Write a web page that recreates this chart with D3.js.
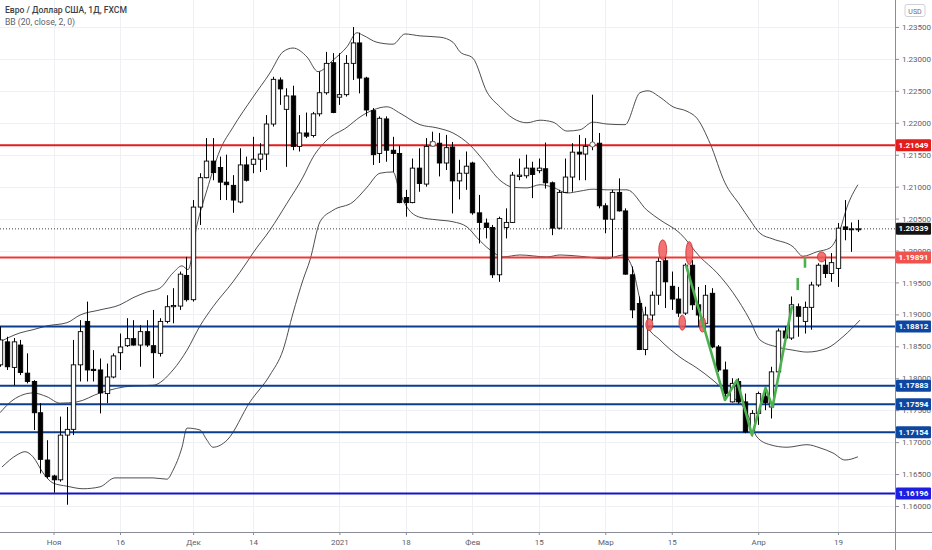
<!DOCTYPE html>
<html>
<head>
<meta charset="utf-8">
<script src="https://cdn.jsdelivr.net/npm/d3@7"></script>
<style>
  body { margin: 0; background: #fff; }
  svg { display: block; }
</style>
</head>
<body>
<svg id="chart" width="932" height="550"></svg>
<script>
const font = 'Roboto, "Liberation Sans", sans-serif'
const plotW = 895
const plotH = 532

// daily candles, bar index -8 .. 121 (0 = 2 Nov 2020)
const firstIdx = -8
const opens = [
  1.1821,1.1857,1.1817,1.1852,1.1808,1.1795,1.1746,1.1672,1.1647,1.1641,
  1.1711,1.1720,1.1821,1.1889,1.1814,1.1813,1.1776,1.1802,1.1840,1.1851,
  1.1862,1.1852,1.1873,1.1851,1.1839,1.1889,1.1912,1.1913,1.1961,1.1923,
  1.2068,1.2114,1.2140,1.2130,1.2107,1.2102,1.2076,1.2134,1.2135,1.2143,
  1.2151,1.2198,1.2267,1.2221,1.2242,1.2163,1.2184,1.2180,1.2214,1.2247,
  1.2294,1.2240,1.2244,1.2293,1.2325,1.2270,1.2219,1.2152,1.2206,1.2157,
  1.2152,1.2083,1.2075,1.2129,1.2104,1.2164,1.2168,1.2137,1.2162,1.2109,
  1.2121,1.2137,1.2059,1.2043,1.2036,1.1962,1.2036,1.2044,1.2116,1.2117,
  1.2129,1.2125,1.2128,1.2106,1.2035,1.2091,1.2115,1.2154,1.2151,1.2165,
  1.2168,1.2070,1.2049,1.2091,1.2062,1.1962,1.1917,1.1845,1.1899,1.1930,
  1.1984,1.1944,1.1924,1.1902,1.1977,1.1915,1.1886,1.1933,1.1849,1.1813,
  1.1763,1.1795,1.1763,1.1718,1.1745,1.1772,1.1755,1.1810,1.1874,1.1863,
  1.1912,1.1889,1.1911,1.1946,1.1977,1.1964,1.1972,1.2037,1.2034,1.2034
]
const highs = [
  1.1881,1.1865,1.1863,1.1860,1.1839,1.1797,1.1761,1.1703,1.1649,1.1740,
  1.1755,1.1860,1.1891,1.1920,1.1844,1.1831,1.1823,1.1839,1.1870,1.1894,
  1.1891,1.1883,1.1891,1.1907,1.1894,1.1930,1.1941,1.1967,1.1990,1.2079,
  1.2121,1.2176,1.2176,1.2147,1.2150,1.2118,1.2160,1.2147,1.2178,1.2168,
  1.2212,1.2272,1.2271,1.2254,1.2258,1.2212,1.2216,1.2217,1.2280,1.2311,
  1.2309,1.2309,1.2306,1.2350,1.2341,1.2272,1.2223,1.2210,1.2210,1.2178,
  1.2164,1.2095,1.2144,1.2160,1.2176,1.2186,1.2184,1.2181,1.2170,1.2142,
  1.2155,1.2139,1.2087,1.2050,1.2040,1.2053,1.2066,1.2123,1.2144,1.2150,
  1.2139,1.2144,1.2169,1.2108,1.2095,1.2144,1.2168,1.2181,1.2176,1.2244,
  1.2184,1.2074,1.2095,1.2113,1.2066,1.1975,1.1928,1.1912,1.1936,1.1988,
  1.1990,1.1967,1.1943,1.1980,1.1985,1.1943,1.1946,1.1941,1.1852,1.1826,
  1.1800,1.1800,1.1776,1.1750,1.1779,1.1787,1.1818,1.1878,1.1881,1.1928,
  1.1917,1.1920,1.1951,1.1980,1.1988,1.1996,1.2043,1.2079,1.2044,1.2048
]
const lows = [
  1.1818,1.1813,1.1789,1.1805,1.1792,1.1719,1.1651,1.1643,1.1621,1.1638,
  1.1602,1.1711,1.1795,1.1795,1.1795,1.1745,1.1761,1.1800,1.1813,1.1849,
  1.1851,1.1818,1.1849,1.1800,1.1834,1.1886,1.1886,1.1907,1.1920,1.1920,
  1.2040,1.2113,1.2110,1.2079,1.2079,1.2059,1.2074,1.2108,1.2121,1.2123,
  1.2126,1.2194,1.2228,1.2131,1.2157,1.2155,1.2176,1.2177,1.2210,1.2244,
  1.2215,1.2228,1.2241,1.2267,1.2246,1.2210,1.2134,1.2137,1.2139,1.2123,
  1.2074,1.2053,1.2074,1.2092,1.2100,1.2163,1.2116,1.2126,1.2058,1.2080,
  1.2095,1.2056,1.2011,1.2019,1.1957,1.1951,1.2019,1.2043,1.2110,1.2113,
  1.2082,1.2121,1.2097,1.2024,1.2033,1.2090,1.2092,1.2110,1.2110,1.2157,
  1.2066,1.2027,1.1990,1.2061,1.1962,1.1894,1.1844,1.1836,1.1890,1.1915,
  1.1910,1.1907,1.1896,1.1899,1.1907,1.1881,1.1876,1.1847,1.1810,1.1766,
  1.1762,1.1760,1.1714,1.1709,1.1727,1.1750,1.1737,1.1808,1.1860,1.1860,
  1.1865,1.1870,1.1876,1.1943,1.1957,1.1951,1.1943,1.2016,1.1998,1.2029
]
const closes = [
  1.1860,1.1818,1.1857,1.1809,1.1795,1.1746,1.1673,1.1646,1.1641,1.1711,
  1.1720,1.1821,1.1873,1.1813,1.1812,1.1777,1.1802,1.1835,1.1849,1.1862,
  1.1852,1.1873,1.1852,1.1840,1.1889,1.1912,1.1914,1.1963,1.1923,1.2068,
  1.2114,1.2140,1.2122,1.2107,1.2103,1.2079,1.2134,1.2110,1.2143,1.2151,
  1.2198,1.2268,1.2253,1.2242,1.2163,1.2184,1.2179,1.2214,1.2247,1.2293,
  1.2216,1.2244,1.2293,1.2325,1.2270,1.2220,1.2150,1.2207,1.2157,1.2152,
  1.2075,1.2075,1.2129,1.2105,1.2163,1.2170,1.2137,1.2161,1.2109,1.2121,
  1.2132,1.2059,1.2044,1.2036,1.1962,1.2050,1.2044,1.2118,1.2118,1.2129,
  1.2119,1.2129,1.2106,1.2035,1.2091,1.2115,1.2154,1.2151,1.2163,1.2166,
  1.2070,1.2049,1.2091,1.2062,1.1963,1.1907,1.1845,1.1899,1.1930,1.1983,
  1.1951,1.1924,1.1902,1.1977,1.1915,1.1899,1.1930,1.1849,1.1813,1.1776,
  1.1792,1.1763,1.1716,1.1745,1.1776,1.1762,1.1810,1.1874,1.1863,1.1915,
  1.1897,1.1911,1.1946,1.1977,1.1964,1.1981,1.2035,1.2033,1.2034,1.2034
]

// Bollinger bands (20, 2): [bar index, price]
const bbUpper = [
  [-8.05,1.1857],[-5.04,1.1871],[-3.08,1.1876],[-0.98,1.1882],[2.03,1.1887],[3.99,1.1899],
  [6.99,1.1907],[10.0,1.1915],[11.96,1.1926],[14.06,1.1935],[16.0,1.1941],[17.98,1.1965],
  [19.33,1.1976],[20.23,1.1970],[21.58,1.2040],[23.09,1.2095],[25.04,1.2157],[27.0,1.2193],
  [30.0,1.2240],[32.56,1.2278],[34.52,1.2311],[36.03,1.2317],[38.13,1.2303],[39.79,1.2280],
  [42.04,1.2298],[44.15,1.2319],[45.65,1.2341],[46.56,1.2337],[48.66,1.2326],[51.07,1.2323],
  [52.87,1.2339],[55.13,1.2336],[58.14,1.2334],[60.09,1.2326],[61.15,1.2311],[63.1,1.2301],
  [65.21,1.2248],[67.16,1.2225],[69.12,1.2207],[71.22,1.2200],[73.18,1.2204],[75.14,1.2201],
  [77.24,1.2187],[79.2,1.2189],[81.15,1.2201],[83.26,1.2198],[85.97,1.2197],[88.22,1.2247],
  [89.42,1.2250],[91.23,1.2240],[93.18,1.2225],[95.29,1.2218],[96.79,1.2207],[98.75,1.2168],
  [101.0,1.2106],[103.26,1.2071],[104.76,1.2048],[106.27,1.2027],[108.22,1.2018],[111.23,1.2006],
  [112.73,1.1991],[114.84,1.1998],[116.8,1.2004],[118.3,1.2032],[119.36,1.2068],[121.0,1.2103]
]
const bbBasis = [
  [-8.05,1.1746],[-6.09,1.1766],[-3.08,1.1777],[-0.98,1.1771],[0.98,1.1761],[3.53,1.1763],
  [6.99,1.1777],[11.96,1.1788],[14.97,1.1789],[17.98,1.1813],[20.08,1.1844],[22.04,1.1882],
  [23.99,1.1912],[27.0,1.1951],[29.11,1.1982],[30.0,1.1996],[32.56,1.2032],[35.12,1.2074],
  [37.53,1.2115],[39.03,1.2146],[41.14,1.2173],[44.15,1.2193],[46.1,1.2209],[48.06,1.2220],
  [50.16,1.2225],[52.12,1.2215],[55.13,1.2197],[57.69,1.2192],[60.09,1.2184],[62.65,1.2165],
  [64.61,1.2142],[67.16,1.2110],[69.12,1.2099],[71.22,1.2098],[73.18,1.2103],[75.14,1.2099],
  [77.24,1.2090],[79.2,1.2093],[81.15,1.2096],[83.26,1.2095],[86.27,1.2095],[89.28,1.2063],
  [91.23,1.2048],[94.24,1.2027],[97.25,1.1990],[99.81,1.1965],[102.21,1.1934],[104.76,1.1891],
  [106.27,1.1860],[108.83,1.1849],[111.23,1.1844],[113.34,1.1841],[116.35,1.1847],[118.75,1.1865],
  [121.31,1.1891]
]
const bbLower = [
  [-7.75,1.1661],[-5.49,1.1680],[-4.29,1.1685],[-3.08,1.1677],[-1.58,1.1652],[-0.08,1.1636],
  [2.03,1.1631],[4.44,1.1627],[6.99,1.1630],[9.25,1.1644],[11.96,1.1644],[14.97,1.1644],
  [17.07,1.1642],[17.98,1.1656],[19.33,1.1692],[20.08,1.1722],[22.04,1.1719],[23.09,1.1703],
  [23.99,1.1692],[26.1,1.1703],[29.56,1.1763],[32.56,1.1805],[34.52,1.1844],[36.03,1.1902],
  [37.53,1.1954],[38.58,1.1985],[40.09,1.2045],[42.04,1.2063],[45.05,1.2076],[47.16,1.2099],
  [49.11,1.2121],[51.07,1.2123],[52.12,1.2090],[53.17,1.2068],[55.13,1.2052],[57.69,1.2048],
  [60.09,1.2045],[62.2,1.2037],[63.71,1.2020],[65.66,1.2001],[67.61,1.1990],[70.17,1.1993],
  [74.23,1.1990],[76.19,1.1993],[79.2,1.1991],[83.26,1.1987],[85.66,1.1993],[87.17,1.1970],
  [88.22,1.1923],[89.28,1.1883],[91.23,1.1860],[94.24,1.1833],[96.79,1.1816],[99.2,1.1797],
  [101.31,1.1777],[104.31,1.1746],[105.82,1.1708],[107.77,1.1696],[110.33,1.1692],[113.34,1.1696],
  [115.3,1.1691],[117.25,1.1683],[119.06,1.1672],[121.0,1.1677]
]

// horizontal levels drawn on the chart
const levels = [1.21649, 1.19891, 1.18812, 1.17883, 1.17594, 1.17154, 1.16196]
const lastPrice = 1.20339

// axis ticks
const priceTicks = [1.160, 1.165, 1.170, 1.175, 1.180, 1.185, 1.190, 1.195,
  1.200, 1.205, 1.210, 1.215, 1.220, 1.225, 1.230, 1.235]
const tickIdx = [0, 10, 21, 30, 43, 53, 63, 73, 83, 93, 106, 118]
const tickLabels = ['Ноя', '16', 'Дек', '14', '2021', '18', 'Фев', '15', 'Мар', '15', 'Апр', '19']

// hand drawn annotations
const greenPath = [[95.14,1.1977],[101.0,1.1766],[102.8,1.1797],[105.07,1.1711],
  [107.11,1.1785],[108.16,1.1755],[111.08,1.1913]]
const greenDashes = [[111.95,1.1957,1.1938],[113.04,1.1990,1.1973]]
const ovals = [[91.64,1.2001],[89.62,1.1884],[95.64,1.1996],[94.58,1.1887],[97.62,1.1884],[115.55,1.1990]]
const ovalSize = [[4,10],[3.5,6],[3.5,11.5],[3.3,7.5],[3.3,7.5],[4.2,5]]
const rings = [[57, 1.2167], [81, 1.2166]]

// style
const levelColor = ['#e31c1c', '#ee3a36', '#0b3d91', '#0b3d91', '#0b3d91', '#0b3d91', '#1414c8']
const labelColor = ['#e31c1c', '#f0524d', '#0d47a1', '#0d47a1', '#0d47a1', '#0d47a1', '#1e1ee0']
const gridColor = '#eef0f4'
const axisColor = '#8a8d96'
const bbColor = '#3a3a3a'

const candles = opens.map((o, k) => ({
  i: firstIdx + k, o: o, h: highs[k], l: lows[k], c: closes[k]
}))

const svg = d3.select('#chart')

const x = d3.scaleLinear().domain([-8.048, 126.58]).range([0, plotW])
const y = d3.scaleLinear().domain([1.15593, 1.23922]).range([plotH, 0])

// grid
svg.append('g').selectAll('line').data(priceTicks).enter().append('line')
  .attr('x1', 0).attr('x2', plotW)
  .attr('y1', d => Math.round(y(d)) + 0.5).attr('y2', d => Math.round(y(d)) + 0.5)
  .attr('stroke', gridColor)
svg.append('g').selectAll('line').data(tickIdx).enter().append('line')
  .attr('x1', d => Math.round(x(d)) + 0.5).attr('x2', d => Math.round(x(d)) + 0.5)
  .attr('y1', 0).attr('y2', plotH)
  .attr('stroke', gridColor)

// bollinger bands
const band = d3.line().x(d => x(d[0])).y(d => y(d[1])).curve(d3.curveMonotoneX)
;[bbUpper, bbBasis, bbLower].forEach(b => {
  svg.append('path').attr('d', band(b))
    .attr('fill', 'none').attr('stroke', bbColor).attr('stroke-width', 0.9)
})

// levels
svg.append('g').selectAll('line').data(levels).enter().append('line')
  .attr('x1', 0).attr('x2', plotW)
  .attr('y1', d => y(d)).attr('y2', d => y(d))
  .attr('stroke', (d, i) => levelColor[i])
  .attr('stroke-width', 2)

svg.append('line')
  .attr('x1', 0).attr('x2', plotW)
  .attr('y1', y(lastPrice)).attr('y2', y(lastPrice))
  .attr('stroke', '#444').attr('stroke-width', 1).attr('stroke-dasharray', '1,2')

// candles
const bodyW = 4.4
const cg = svg.append('g').selectAll('g').data(candles).enter().append('g')

cg.append('line')
  .attr('x1', d => Math.round(x(d.i)) + 0.5).attr('x2', d => Math.round(x(d.i)) + 0.5)
  .attr('y1', d => y(d.h)).attr('y2', d => y(d.l))
  .attr('stroke', '#000').attr('stroke-width', 1)

cg.append('rect')
  .attr('x', d => Math.round(x(d.i)) + 0.5 - bodyW / 2)
  .attr('y', d => y(Math.max(d.o, d.c)))
  .attr('width', bodyW)
  .attr('height', d => Math.max(1, Math.abs(y(d.o) - y(d.c))))
  .attr('fill', d => d.c >= d.o ? '#fff' : '#000')
  .attr('stroke', '#000').attr('stroke-width', 0.9)

svg.append('g').selectAll('circle').data(rings).enter().append('circle')
  .attr('cx', d => x(d[0]) + 0.5).attr('cy', d => y(d[1]))
  .attr('r', 2.6).attr('fill', '#fff').attr('stroke', '#555').attr('stroke-width', 0.9)

// annotations
svg.append('g').selectAll('ellipse').data(ovals).enter().append('ellipse')
  .attr('cx', d => x(d[0])).attr('cy', d => y(d[1]))
  .attr('rx', (d, i) => ovalSize[i][0]).attr('ry', (d, i) => ovalSize[i][1])
  .attr('fill', '#ee5a5a').attr('fill-opacity', 0.85)
  .attr('stroke', '#c83030').attr('stroke-width', 0.8)

svg.append('path')
  .attr('d', d3.line().x(d => x(d[0])).y(d => y(d[1]))(greenPath))
  .attr('fill', 'none').attr('stroke', '#4caf50').attr('stroke-width', 2.6)
  .attr('stroke-linejoin', 'round')

svg.append('g').selectAll('line').data(greenDashes).enter().append('line')
  .attr('x1', d => x(d[0])).attr('x2', d => x(d[0]))
  .attr('y1', d => y(d[1])).attr('y2', d => y(d[2]))
  .attr('stroke', '#4caf50').attr('stroke-width', 2.6)

// axes
svg.append('rect').attr('x', plotW).attr('y', 0).attr('width', 932 - plotW).attr('height', 550).attr('fill', '#fff')
svg.append('rect').attr('x', 0).attr('y', plotH).attr('width', 932).attr('height', 550 - plotH).attr('fill', '#fff')

const yAxis = svg.append('g').attr('transform', `translate(${plotW},0)`)
  .call(d3.axisRight(y).tickValues(priceTicks).tickFormat(d3.format('.5f')).tickSize(4).tickPadding(3))
const xAxis = svg.append('g').attr('transform', `translate(0,${plotH})`)
  .call(d3.axisBottom(x).tickValues(tickIdx).tickFormat((d, i) => tickLabels[i]).tickSize(3).tickPadding(4))

;[yAxis, xAxis].forEach(a => {
  a.select('.domain').remove()
  a.selectAll('line').attr('stroke', axisColor)
  a.selectAll('text').attr('fill', '#5d606b').attr('font-family', font).attr('font-size', 8)
})

svg.append('line').attr('x1', 0).attr('x2', 932).attr('y1', plotH + 0.5).attr('y2', plotH + 0.5)
  .attr('stroke', axisColor)
svg.append('line').attr('x1', plotW + 0.5).attr('x2', plotW + 0.5).attr('y1', 0).attr('y2', 550)
  .attr('stroke', axisColor)

// price labels on the axis
const priceBox = (p, bg) => {
  svg.append('rect')
    .attr('x', plotW + 1).attr('y', y(p) - 6)
    .attr('width', 35).attr('height', 12).attr('rx', 1)
    .attr('fill', bg)
  svg.append('text')
    .attr('x', plotW + 18.5).attr('y', y(p) + 0.5)
    .attr('text-anchor', 'middle').attr('dominant-baseline', 'middle')
    .attr('fill', '#fff').attr('font-family', font).attr('font-size', 8).attr('font-weight', 'bold')
    .text(d3.format('.5f')(p))
}
levels.forEach((p, i) => priceBox(p, labelColor[i]))
priceBox(lastPrice, '#131313')

// currency badge
svg.append('rect').attr('x', 905).attr('y', 4.5).attr('width', 20).attr('height', 12).attr('rx', 2)
  .attr('fill', '#fff').attr('stroke', '#cfd2d8')
svg.append('text').attr('x', 915).attr('y', 13.5).attr('text-anchor', 'middle')
  .attr('fill', '#6a6d78').attr('font-family', font).attr('font-size', 7).text('USD')

// legend
svg.append('text').attr('x', 5).attr('y', 13)
  .attr('fill', '#3c3f48').attr('font-family', font).attr('font-size', 8.6).attr('font-weight', 500)
  .text('Евро / Доллар США, 1Д, FXCM')
svg.append('text').attr('x', 5).attr('y', 25)
  .attr('fill', '#5d606b').attr('font-family', font).attr('font-size', 8.6)
  .text('BB (20, close, 2, 0)')
</script>
</body>
</html>
